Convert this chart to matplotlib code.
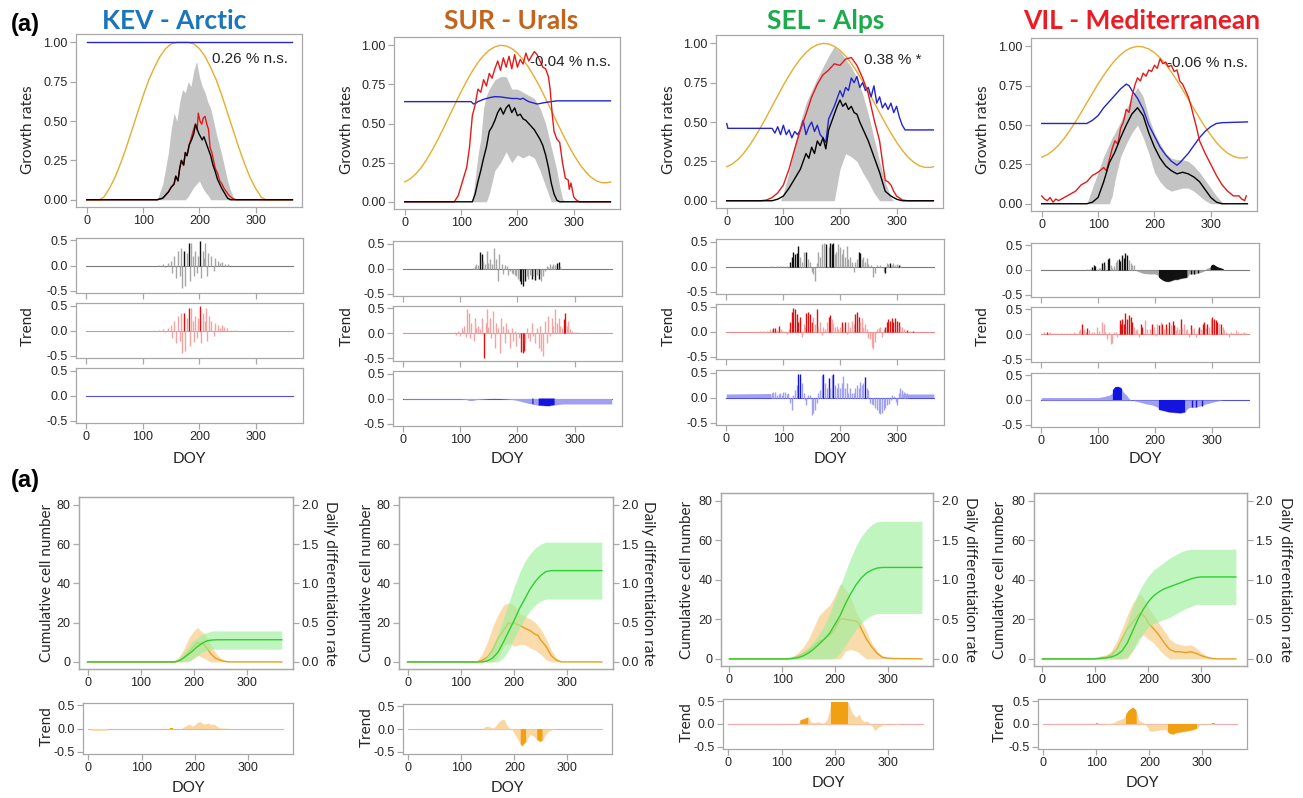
import numpy as np
import matplotlib
matplotlib.use("Agg")
import matplotlib.pyplot as plt
from matplotlib.ticker import FormatStrFormatter

plt.rcParams['font.family'] = ['Liberation Sans', 'DejaVu Sans']
plt.rcParams['axes.unicode_minus'] = False

# ---------------- data: growth rates (top row) ----------------
doy10 = [0, 10, 20, 30, 40, 50, 60, 70, 80, 90, 100, 110, 120, 130, 140, 150, 160, 170, 180,
         190, 200, 210, 220, 230, 240, 250, 260, 270, 280, 290, 300, 310, 320, 330, 340, 350, 360, 365]

kev_gold_doy = [0, 22, 30, 40, 50, 60, 70, 80, 90, 100, 110, 120, 130, 140, 150, 160, 170, 180, 190,
                200, 210, 220, 230, 240, 250, 260, 270, 280, 290, 300, 310, 318, 365]
kev_gold = [0, 0, 0.015, 0.07, 0.14, 0.23, 0.33, 0.44, 0.55, 0.66, 0.76, 0.84, 0.91, 0.96, 0.99, 1.0, 1.0,
            1.0, 0.99, 0.96, 0.91, 0.84, 0.76, 0.66, 0.55, 0.44, 0.33, 0.23, 0.14, 0.07, 0.015, 0, 0]
sur_gold = [0.127, 0.147, 0.179, 0.222, 0.276, 0.338, 0.406, 0.479, 0.555, 0.630, 0.703, 0.772, 0.835,
            0.890, 0.935, 0.969, 0.990, 1.000, 0.996, 0.979, 0.950, 0.909, 0.858, 0.798, 0.732, 0.659,
            0.585, 0.509, 0.435, 0.365, 0.300, 0.243, 0.196, 0.159, 0.134, 0.122, 0.122, 0.127]
sel_gold = [0.216, 0.234, 0.263, 0.302, 0.350, 0.406, 0.467, 0.532, 0.600, 0.667, 0.734, 0.795, 0.852,
            0.901, 0.942, 0.972, 0.991, 1.000, 0.996, 0.981, 0.955, 0.919, 0.873, 0.819, 0.759, 0.694,
            0.627, 0.559, 0.493, 0.430, 0.372, 0.321, 0.278, 0.245, 0.223, 0.212, 0.212, 0.216]
vil_gold = [0.296, 0.312, 0.338, 0.372, 0.416, 0.466, 0.521, 0.580, 0.641, 0.701, 0.761, 0.816, 0.867,
            0.911, 0.947, 0.975, 0.992, 1.000, 0.996, 0.983, 0.960, 0.927, 0.886, 0.837, 0.783, 0.725,
            0.665, 0.604, 0.544, 0.487, 0.436, 0.389, 0.351, 0.321, 0.301, 0.291, 0.291, 0.296]

kev_blue_doy = [0, 365]
kev_blue = [1.0, 1.0]
kev_red_doy = [0, 125, 130, 135, 140, 145, 150, 155, 158, 162, 165, 168, 172, 175, 178, 182, 186, 190, 193,
               196, 198, 201, 204, 207, 210, 213, 216, 219, 222, 225, 228, 232, 236, 240, 244, 248, 252,
               258, 265, 365]
kev_red = [0, 0, 0.005, 0.01, 0.03, 0.05, 0.08, 0.1, 0.15, 0.12, 0.2, 0.25, 0.22, 0.3, 0.28, 0.35, 0.4,
           0.45, 0.48, 0.44, 0.55, 0.5, 0.48, 0.52, 0.53, 0.48, 0.45, 0.33, 0.3, 0.25, 0.2, 0.17, 0.12,
           0.1, 0.07, 0.05, 0.03, 0.01, 0, 0]
kev_black_doy = [0, 125, 130, 135, 140, 145, 150, 155, 158, 162, 165, 168, 172, 175, 178, 182, 186, 190,
                 193, 196, 199, 202, 205, 208, 212, 216, 220, 224, 228, 232, 236, 240, 245, 250, 255, 365]
kev_black = [0, 0, 0.005, 0.01, 0.03, 0.05, 0.08, 0.1, 0.15, 0.12, 0.2, 0.25, 0.22, 0.3, 0.28, 0.35,
             0.38, 0.42, 0.48, 0.45, 0.42, 0.4, 0.38, 0.4, 0.36, 0.32, 0.28, 0.22, 0.18, 0.13, 0.1, 0.07,
             0.04, 0.01, 0, 0]
kev_band_doy = [0, 125, 130, 135, 140, 145, 150, 155, 160, 165, 170, 175, 180, 185, 190, 195, 200, 205,
                210, 215, 220, 225, 230, 235, 240, 245, 250, 255, 262, 365]
kev_band_hi = [0, 0, 0.05, 0.1, 0.2, 0.3, 0.45, 0.55, 0.5, 0.62, 0.7, 0.68, 0.75, 0.72, 0.82, 0.88, 0.78,
               0.72, 0.68, 0.62, 0.58, 0.5, 0.42, 0.35, 0.28, 0.2, 0.12, 0.06, 0, 0]
kev_band_lo = [0, 0, 0, 0, 0, 0, 0, 0, 0, 0, 0, 0, 0.02, 0.05, 0.08, 0.1, 0.12, 0.08, 0.05, 0.03, 0, 0,
               0, 0, 0, 0, 0, 0, 0, 0]

sur_blue_doy = [0, 118, 122, 126, 130, 140, 150, 160, 170, 180, 190, 200, 205, 210, 215, 220, 230, 235,
                240, 250, 260, 270, 365]
sur_blue = [0.64, 0.64, 0.625, 0.63, 0.64, 0.655, 0.665, 0.672, 0.67, 0.665, 0.66, 0.66, 0.655, 0.662,
            0.65, 0.64, 0.63, 0.625, 0.628, 0.635, 0.64, 0.645, 0.645]
sur_red_doy = [0, 88, 95, 100, 105, 110, 115, 120, 125, 130, 135, 140, 145, 150, 155, 160, 165, 170, 175,
               180, 185, 190, 195, 200, 205, 210, 215, 220, 225, 230, 235, 240, 245, 250, 255, 258, 262,
               265, 270, 275, 280, 285, 290, 292, 295, 300, 305, 310, 365]
sur_red = [0, 0, 0.04, 0.1, 0.16, 0.22, 0.35, 0.55, 0.62, 0.72, 0.7, 0.78, 0.74, 0.82, 0.79, 0.85, 0.9,
           0.84, 0.92, 0.86, 0.93, 0.85, 0.94, 0.86, 0.91, 0.88, 0.95, 0.9, 0.93, 0.96, 0.94, 0.9, 0.86,
           0.85, 0.8, 0.72, 0.55, 0.45, 0.4, 0.38, 0.25, 0.15, 0.14, 0.08, 0.12, 0.03, 0.01, 0, 0]
sur_black_doy = [0, 120, 125, 130, 135, 140, 145, 150, 155, 160, 165, 170, 175, 180, 185, 190, 195, 200,
                 205, 210, 215, 220, 225, 230, 235, 240, 245, 250, 255, 260, 265, 270, 275, 365]
sur_black = [0, 0, 0.05, 0.13, 0.2, 0.28, 0.35, 0.45, 0.48, 0.52, 0.57, 0.6, 0.56, 0.6, 0.62, 0.57, 0.6,
             0.55, 0.56, 0.53, 0.52, 0.5, 0.48, 0.46, 0.43, 0.4, 0.36, 0.3, 0.22, 0.12, 0.05, 0.01, 0, 0]
sur_band_doy = [0, 120, 125, 130, 135, 140, 145, 150, 160, 170, 180, 190, 200, 210, 220, 230, 240, 250,
                260, 270, 275, 280, 285, 365]
sur_band_hi = [0, 0, 0.15, 0.3, 0.4, 0.6, 0.68, 0.72, 0.78, 0.8, 0.8, 0.72, 0.72, 0.7, 0.68, 0.66, 0.6,
               0.5, 0.35, 0.2, 0.1, 0.02, 0, 0]
sur_band_lo = [0, 0, 0, 0, 0, 0, 0, 0.05, 0.2, 0.25, 0.32, 0.25, 0.3, 0.28, 0.3, 0.28, 0.2, 0.1, 0, 0,
               0, 0, 0, 0]

sel_blue_doy = [0, 2, 80, 85, 90, 95, 100, 105, 110, 115, 120, 125, 130, 135, 140, 145, 150, 155, 160,
                165, 170, 175, 180, 190, 200, 205, 210, 215, 220, 225, 230, 235, 240, 245, 250, 255, 260,
                265, 270, 275, 280, 285, 290, 295, 300, 305, 310, 315, 365]
sel_blue = [0.49, 0.46, 0.46, 0.43, 0.47, 0.42, 0.48, 0.42, 0.45, 0.4, 0.44, 0.42, 0.45, 0.51, 0.42,
            0.47, 0.5, 0.44, 0.48, 0.42, 0.4, 0.37, 0.52, 0.6, 0.7, 0.66, 0.72, 0.7, 0.78, 0.75, 0.79,
            0.72, 0.75, 0.7, 0.72, 0.66, 0.73, 0.62, 0.66, 0.59, 0.62, 0.58, 0.62, 0.56, 0.6, 0.53,
            0.48, 0.45, 0.45]
sel_red_doy = [0, 60, 70, 80, 90, 100, 110, 120, 130, 140, 150, 160, 170, 180, 190, 200, 210, 220, 230,
               240, 250, 260, 270, 275, 280, 285, 290, 295, 300, 310, 320, 365]
sel_red = [0, 0, 0.005, 0.02, 0.05, 0.1, 0.2, 0.33, 0.45, 0.55, 0.66, 0.74, 0.8, 0.83, 0.87, 0.86, 0.9,
           0.91, 0.86, 0.78, 0.68, 0.52, 0.38, 0.25, 0.13, 0.12, 0.1, 0.06, 0.03, 0.005, 0, 0]
sel_black_doy = [0, 80, 90, 100, 110, 120, 125, 130, 135, 140, 145, 150, 155, 160, 165, 170, 175, 180,
                 185, 190, 195, 200, 205, 210, 215, 220, 225, 230, 235, 240, 245, 250, 260, 270, 280,
                 290, 300, 310, 365]
sel_black = [0, 0, 0.01, 0.03, 0.08, 0.14, 0.17, 0.2, 0.25, 0.3, 0.27, 0.34, 0.3, 0.38, 0.35, 0.4, 0.33,
             0.45, 0.5, 0.55, 0.6, 0.64, 0.6, 0.62, 0.58, 0.6, 0.56, 0.55, 0.5, 0.46, 0.42, 0.38, 0.28,
             0.18, 0.06, 0.03, 0.01, 0, 0]
sel_band_doy = [0, 95, 100, 110, 120, 130, 140, 150, 160, 170, 180, 190, 195, 200, 210, 220, 230, 240,
                250, 260, 270, 280, 290, 295, 365]
sel_band_hi = [0, 0, 0.05, 0.18, 0.35, 0.5, 0.62, 0.7, 0.78, 0.85, 0.92, 0.98, 0.96, 0.95, 0.9, 0.85,
               0.78, 0.68, 0.55, 0.4, 0.25, 0.12, 0.02, 0, 0]
sel_band_lo = [0, 0, 0, 0, 0, 0, 0, 0, 0, 0, 0, 0, 0.1, 0.2, 0.3, 0.28, 0.25, 0.18, 0.12, 0.05, 0, 0, 0,
               0, 0]

vil_blue_doy = [0, 80, 90, 100, 110, 120, 130, 140, 150, 155, 160, 170, 180, 190, 200, 210, 220, 230,
                240, 245, 250, 260, 270, 280, 290, 300, 310, 320, 365]
vil_blue = [0.51, 0.51, 0.53, 0.56, 0.61, 0.65, 0.69, 0.73, 0.76, 0.75, 0.72, 0.67, 0.6, 0.5, 0.43,
            0.36, 0.31, 0.27, 0.245, 0.26, 0.28, 0.32, 0.37, 0.42, 0.46, 0.49, 0.51, 0.515, 0.52]
vil_red_doy = [0, 5, 10, 15, 20, 25, 30, 40, 50, 60, 70, 80, 90, 100, 110, 115, 120, 125, 130, 135, 140,
               145, 150, 155, 160, 165, 170, 175, 180, 185, 190, 195, 200, 205, 210, 215, 220, 225, 230,
               235, 240, 245, 250, 255, 260, 265, 270, 275, 280, 290, 300, 310, 320, 330, 340, 350, 355,
               360, 363]
vil_red = [0.05, 0.03, 0.02, 0.04, 0.01, 0.03, 0.02, 0.04, 0.06, 0.08, 0.12, 0.14, 0.18, 0.2, 0.23, 0.21,
           0.28, 0.35, 0.4, 0.38, 0.48, 0.52, 0.6, 0.58, 0.68, 0.75, 0.8, 0.78, 0.83, 0.81, 0.85, 0.84,
           0.88, 0.86, 0.92, 0.89, 0.9, 0.87, 0.88, 0.84, 0.85, 0.78, 0.76, 0.72, 0.68, 0.62, 0.55, 0.48,
           0.4, 0.32, 0.25, 0.18, 0.12, 0.08, 0.05, 0.05, 0.03, 0.02, 0.05]
vil_black_doy = [0, 80, 90, 100, 110, 120, 130, 140, 150, 160, 170, 180, 190, 200, 210, 220, 230, 240,
                 250, 260, 270, 280, 290, 300, 310, 320, 365]
vil_black = [0, 0, 0.01, 0.04, 0.14, 0.26, 0.33, 0.42, 0.5, 0.57, 0.61, 0.56, 0.45, 0.36, 0.29, 0.24,
             0.21, 0.19, 0.2, 0.19, 0.17, 0.14, 0.09, 0.04, 0.01, 0, 0]
vil_band_doy = [0, 80, 85, 90, 100, 110, 120, 125, 130, 140, 150, 160, 170, 180, 190, 200, 210, 220, 230,
                240, 250, 260, 270, 280, 290, 300, 310, 320, 330, 365]
vil_band_hi = [0, 0, 0.05, 0.1, 0.2, 0.3, 0.38, 0.42, 0.45, 0.52, 0.6, 0.68, 0.74, 0.68, 0.55, 0.45,
               0.38, 0.32, 0.29, 0.28, 0.28, 0.27, 0.24, 0.2, 0.15, 0.1, 0.05, 0.01, 0, 0]
vil_band_lo = [0, 0, 0, 0, 0, 0, 0, 0.05, 0.15, 0.3, 0.38, 0.45, 0.5, 0.42, 0.32, 0.2, 0.14, 0.1, 0.08,
               0.09, 0.1, 0.1, 0.08, 0.05, 0.02, 0, 0, 0, 0, 0]

slopes = ["0.26 % n.s.", "-0.04 % n.s.", "0.38 % *", "-0.06 % n.s."]
sites = ["KEV - Arctic", "SUR - Urals", "SEL - Alps", "VIL - Mediterranean"]

# ---------------- data: trends, (doy, value, significant) ----------------
kev_tr_black = [(128, 0.02, 0), (135, 0.03, 0), (140, -0.02, 0), (145, 0.05, 0), (150, 0.1, 0), (152, -0.15, 0),
                (155, 0.2, 0), (158, -0.25, 0), (162, 0.3, 0), (165, -0.2, 0), (168, 0.35, 0), (170, -0.45, 0),
                (172, 0.3, 1), (175, -0.4, 0), (178, 0.25, 0), (181, 0.45, 1), (183, -0.3, 0), (185, 0.45, 0),
                (188, 0.2, 0), (190, -0.2, 0), (193, 0.3, 0), (195, -0.15, 0), (198, 0.2, 0), (201, 0.48, 1),
                (203, -0.25, 0), (206, 0.3, 0), (208, 0.15, 0), (210, 0.45, 0), (213, -0.2, 0), (216, 0.25, 0),
                (220, 0.2, 0), (225, -0.1, 0), (228, 0.15, 0), (232, 0.1, 0), (236, 0.05, 0), (240, 0.07, 0),
                (245, 0.04, 0), (250, 0.03, 0)]
kev_tr_red = [(128, 0.02, 0), (135, 0.03, 0), (140, -0.02, 0), (145, 0.05, 0), (150, 0.12, 0), (152, -0.15, 0),
              (155, 0.2, 0), (158, -0.25, 0), (162, 0.3, 0), (165, -0.2, 0), (168, 0.35, 0), (170, -0.45, 0),
              (172, 0.35, 1), (175, -0.4, 0), (178, 0.25, 0), (181, 0.45, 1), (183, -0.3, 0), (185, 0.45, 0),
              (188, 0.2, 0), (190, -0.22, 0), (193, 0.3, 0), (196, -0.15, 0), (198, 0.25, 0), (201, 0.5, 1),
              (203, -0.25, 0), (206, 0.35, 0), (209, 0.2, 0), (211, 0.45, 0), (214, -0.2, 0), (217, 0.3, 0),
              (221, 0.2, 0), (225, -0.1, 0), (228, 0.15, 0), (232, 0.12, 0), (236, 0.05, 0), (240, 0.12, 0),
              (244, 0.08, 0), (248, 0.05, 0), (255, 0.02, 0), (262, 0.01, 0)]

sur_tr_black = [(122, 0.02, 0), (125, 0.05, 0), (128, 0.1, 0), (131, 0.08, 0), (134, 0.33, 1), (137, 0.3, 1),
                (140, 0.15, 0), (143, 0.1, 0), (146, 0.35, 0), (149, 0.12, 0), (151, 0.2, 0), (155, 0.1, 0),
                (159, 0.42, 0), (163, 0.2, 0), (166, -0.24, 0), (168, 0.3, 0), (172, 0.1, 0), (175, -0.1, 0),
                (178, 0.08, 0), (181, 0.05, 0), (184, -0.12, 0), (187, -0.05, 0), (190, -0.08, 0),
                (193, -0.1, 0), (196, -0.12, 0), (198, -0.15, 0), (201, -0.2, 0), (204, -0.25, 1),
                (207, -0.3, 1), (210, -0.35, 1), (213, -0.25, 1), (216, -0.15, 0), (219, -0.2, 0),
                (222, -0.12, 0), (225, -0.2, 1), (228, -0.15, 0), (231, -0.22, 1), (234, -0.12, 0),
                (237, -0.2, 1), (240, -0.1, 0), (242, -0.25, 0), (245, -0.15, 0), (248, -0.05, 0),
                (251, 0.05, 0), (254, 0.03, 0), (257, 0.1, 0), (260, 0.06, 0), (263, 0.1, 0), (266, 0.08, 0),
                (269, 0.12, 1), (272, 0.13, 1), (275, 0.05, 0)]
sur_tr_red = [(90, 0.02, 0), (93, -0.03, 0), (96, 0.05, 0), (99, -0.05, 0), (102, 0.1, 0), (105, 0.04, 0),
              (107, 0.15, 0), (109, -0.08, 0), (112, 0.48, 0), (115, 0.4, 0), (117, -0.1, 0), (119, 0.2, 0),
              (123, -0.15, 0), (125, 0.3, 0), (128, 0.1, 0), (131, 0.15, 0), (134, 0.08, 0), (137, 0.3, 0),
              (141, -0.5, 1), (144, 0.2, 0), (146, 0.48, 0), (149, 0.12, 0), (151, 0.3, 0), (154, -0.1, 0),
              (157, 0.45, 0), (160, -0.3, 0), (163, 0.2, 0), (166, 0.1, 0), (169, -0.4, 0), (171, 0.3, 0),
              (175, 0.15, 0), (178, -0.2, 0), (180, 0.2, 0), (184, 0.08, 0), (187, -0.3, 0), (190, 0.1, 0),
              (193, -0.15, 0), (196, 0.05, 0), (198, -0.25, 0), (202, -0.1, 0), (207, -0.38, 1),
              (209, -0.4, 1), (211, -0.35, 1), (213, -0.2, 0), (216, 0.1, 0), (219, -0.1, 0), (222, -0.15, 0),
              (225, 0.2, 0), (228, -0.05, 0), (231, -0.2, 0), (234, 0.1, 0), (237, -0.3, 0), (240, 0.15, 0),
              (242, -0.35, 0), (245, -0.45, 0), (248, 0.25, 0), (251, -0.2, 0), (254, 0.35, 0),
              (257, -0.05, 0), (260, 0.3, 0), (263, 0.15, 0), (266, 0.48, 0), (269, 0.2, 0), (272, 0.3, 0),
              (275, 0.15, 0), (278, 0.1, 0), (281, 0.28, 1), (284, 0.4, 1), (287, 0.15, 0), (289, 0.25, 0),
              (292, 0.08, 0), (295, 0.05, 0), (300, 0.02, 0), (304, 0.02, 0)]
sur_tr_blue_doy = [0, 100, 110, 115, 120, 125, 130, 140, 150, 160, 170, 180, 190, 200, 210, 220, 226, 228,
                   230, 237, 240, 250, 256, 259, 260, 265, 270, 280, 365]
sur_tr_blue = [-0.01, -0.01, -0.02, -0.04, -0.04, -0.03, -0.02, -0.01, 0.0, 0.005, 0.0, -0.01, -0.02,
               -0.04, -0.07, -0.1, -0.11, -0.12, -0.12, -0.14, -0.14, -0.15, -0.15, -0.14, -0.14, -0.13,
               -0.12, -0.11, -0.11]
sur_tr_blue_sig = [0, 0, 0, 0, 0, 0, 0, 0, 0, 0, 0, 0, 0, 0, 0, 0, 1, 1, 0, 1, 1, 1, 1, 1, 1, 1, 0, 0, 0]

sel_tr_black = [(80, 0.01, 0), (90, 0.01, 0), (95, 0.02, 0), (100, 0.01, 0), (106, 0.02, 0), (109, -0.02, 0),
                (113, 0.1, 1), (115, 0.2, 1), (118, 0.3, 1), (121, 0.25, 1), (124, 0.28, 1), (127, 0.42, 1),
                (130, 0.2, 0), (133, 0.1, 0), (136, 0.3, 0), (140, 0.3, 1), (144, 0.15, 0), (147, 0.1, 0),
                (150, -0.1, 0), (153, -0.15, 0), (156, -0.28, 0), (159, 0.08, 0), (162, 0.3, 0), (165, 0.2, 0),
                (168, 0.46, 0), (172, 0.48, 0), (176, 0.45, 1), (180, 0.4, 0), (183, 0.48, 1), (186, 0.46, 1),
                (188, 0.48, 1), (191, 0.25, 0), (193, 0.3, 0), (197, 0.46, 0), (200, 0.4, 0), (203, 0.25, 0),
                (206, 0.35, 0), (209, 0.2, 0), (212, 0.42, 0), (215, 0.15, 0), (218, 0.2, 0), (221, 0.1, 0),
                (224, -0.1, 0), (227, 0.1, 0), (230, 0.15, 0), (233, 0.3, 1), (235, 0.28, 1), (238, 0.15, 0),
                (241, 0.2, 0), (244, 0.1, 0), (247, 0.18, 0), (250, 0.05, 0), (255, 0.03, 0), (259, -0.2, 0),
                (262, -0.12, 0), (266, 0.03, 0), (271, 0.03, 0), (277, -0.1, 0), (280, -0.12, 1),
                (282, 0.08, 0), (285, 0.05, 0), (288, 0.07, 1), (291, 0.04, 0), (294, 0.08, 0), (297, 0.04, 0),
                (300, 0.05, 0), (303, 0.03, 1), (306, 0.03, 0)]
sel_tr_red = [(59, 0.01, 0), (65, 0.01, 0), (71, 0.02, 0), (77, 0.05, 0), (80, 0.03, 0), (83, 0.08, 1),
              (86, 0.07, 1), (89, 0.03, 0), (92, 0.12, 1), (97, 0.05, 0), (100, 0.02, 0), (106, -0.05, 0),
              (110, 0.05, 0), (113, 0.2, 1), (115, 0.4, 1), (118, 0.48, 1), (121, 0.45, 1), (124, 0.35, 1),
              (127, 0.2, 1), (130, 0.3, 1), (134, -0.1, 0), (136, 0.15, 0), (138, 0.1, 0), (141, 0.37, 1),
              (144, 0.4, 1), (147, 0.36, 1), (150, 0.2, 1), (153, 0.3, 0), (156, 0.15, 0), (159, 0.45, 1),
              (162, 0.1, 0), (165, 0.2, 0), (168, -0.06, 0), (171, 0.1, 0), (174, 0.05, 0), (177, 0.2, 0),
              (180, 0.3, 1), (183, 0.33, 1), (186, 0.25, 0), (188, 0.18, 0), (191, 0.1, 0), (194, 0.12, 0),
              (197, 0.05, 0), (200, 0.1, 0), (203, 0.2, 1), (206, 0.1, 0), (209, 0.2, 1), (212, -0.05, 0),
              (215, 0.2, 0), (218, 0.1, 0), (221, 0.22, 0), (224, 0.15, 0), (227, 0.36, 1), (230, 0.4, 1),
              (233, 0.3, 1), (236, 0.2, 0), (238, 0.28, 0), (241, 0.1, 0), (244, 0.15, 0), (247, 0.05, 0),
              (250, -0.12, 0), (253, -0.15, 0), (256, -0.3, 0), (259, -0.35, 0), (262, -0.2, 0),
              (265, 0.05, 0), (268, 0.08, 0), (271, 0.1, 0), (274, -0.1, 0), (277, 0.05, 0), (280, 0.1, 1),
              (282, 0.2, 1), (285, 0.25, 1), (288, 0.22, 1), (291, 0.28, 1), (294, 0.2, 1), (297, 0.27, 1),
              (300, 0.22, 1), (303, 0.2, 1), (306, 0.12, 0), (309, 0.1, 0), (313, 0.05, 0), (318, 0.03, 1),
              (323, 0.02, 0), (329, 0.02, 1)]
sel_tr_blue = [(80, 0.1, 0), (83, 0.12, 0), (86, 0.12, 0), (89, 0.06, 0), (92, 0.08, 0), (95, 0.1, 0),
               (98, 0.05, 0), (100, 0.12, 0), (103, 0.12, 0), (106, 0.08, 0), (109, 0.1, 0), (112, -0.1, 0),
               (115, -0.25, 0), (118, 0.05, 0), (121, 0.15, 0), (124, 0.25, 0), (127, 0.48, 1), (130, 0.48, 1),
               (133, 0.3, 0), (136, 0.1, 0), (139, -0.05, 0), (141, -0.15, 0), (144, 0.05, 0), (147, 0.05, 0),
               (150, -0.35, 0), (153, -0.3, 0), (156, -0.25, 0), (159, -0.1, 0), (162, 0.1, 0), (165, 0.15, 0),
               (168, 0.45, 0), (171, 0.47, 1), (174, 0.3, 0), (177, 0.2, 0), (180, 0.4, 1), (183, 0.2, 0),
               (186, 0.46, 0), (188, 0.48, 1), (191, 0.25, 0), (194, 0.2, 0), (197, 0.3, 0), (200, 0.2, 0),
               (203, 0.3, 0), (206, 0.44, 0), (209, 0.2, 0), (212, 0.3, 0), (215, 0.1, 0), (218, 0.2, 0),
               (221, 0.1, 0), (224, 0.1, 0), (227, 0.2, 0), (230, 0.25, 0), (233, 0.2, 0), (235, 0.32, 0),
               (238, 0.25, 0), (241, 0.3, 0), (244, 0.42, 1), (247, 0.2, 0), (250, 0.15, 0), (253, -0.1, 0),
               (256, -0.12, 0), (259, -0.15, 0), (262, -0.2, 0), (265, -0.25, 0), (268, -0.3, 0),
               (271, -0.32, 0), (274, -0.3, 0), (277, -0.25, 0), (280, -0.2, 0), (283, -0.15, 0),
               (286, -0.12, 0), (289, -0.05, 0), (292, 0.05, 0), (295, 0.04, 0), (298, -0.08, 0),
               (300, -0.15, 0), (303, 0.1, 0), (306, 0.2, 0), (309, 0.15, 0), (312, 0.12, 0), (315, 0.1, 0),
               (318, 0.1, 0)]
sel_tr_blue_doy = [0, 78, 79, 307, 308, 365]
sel_tr_blue_area = [0.07, 0.08, 0, 0, 0.07, 0.07]

vil_tr_black = [(81, 0.02, 0), (86, 0.03, 0), (89, 0.06, 1), (92, 0.1, 1), (95, 0.08, 1), (98, 0.03, 0),
                (101, 0.05, 0), (104, 0.04, 0), (107, 0.15, 1), (110, 0.17, 1), (113, 0.1, 0), (117, 0.22, 1),
                (119, 0.25, 1), (122, 0.1, 0), (125, 0.05, 0), (128, 0.08, 0), (131, 0.17, 0), (134, 0.2, 0),
                (136, 0.22, 1), (139, 0.18, 1), (142, 0.3, 1), (145, 0.25, 1), (148, 0.35, 1), (151, 0.3, 1),
                (154, 0.2, 0), (157, 0.15, 0), (160, 0.1, 0), (163, 0.1, 0), (263, -0.08, 1), (269, -0.08, 1),
                (275, -0.07, 1)]
vil_tr_black_doy = [0, 165, 170, 175, 180, 190, 200, 204, 207, 210, 215, 220, 225, 230, 235, 240, 245, 250,
                    255, 257, 260, 265, 270, 275, 280, 285, 289, 290, 295, 298, 300, 303, 306, 310, 315,
                    320, 322, 365]
vil_tr_black_area = [0, 0, -0.03, -0.05, -0.07, -0.08, -0.08, -0.1, -0.15, -0.18, -0.22, -0.24, -0.24,
                     -0.22, -0.2, -0.2, -0.18, -0.17, -0.16, -0.15, -0.08, -0.08, -0.08, -0.06, -0.05,
                     -0.03, 0.0, 0.03, 0.05, 0.06, 0.1, 0.11, 0.09, 0.06, 0.04, 0.02, 0.0, 0]
vil_tr_black_sig = [0, 0, 0, 0, 0, 0, 0, 0, 1, 1, 1, 1, 1, 1, 1, 1, 1, 1, 1, 1, 0, 0, 0, 0, 0, 0, 0, 0, 0,
                    1, 1, 1, 1, 1, 1, 1, 1, 0]
vil_tr_red = [(4, 0.05, 0), (10, 0.05, 1), (13, 0.02, 0), (16, 0.04, 0), (22, 0.03, 0), (28, 0.02, 0),
              (34, 0.02, 0), (40, 0.03, 0), (45, 0.03, 0), (51, 0.02, 0), (57, 0.04, 0), (62, 0.03, 0),
              (66, 0.06, 0), (69, 0.1, 0), (72, 0.2, 1), (75, 0.1, 0), (78, 0.05, 0), (81, 0.13, 1),
              (84, 0.08, 0), (89, 0.05, 0), (93, 0.04, 0), (98, 0.15, 0), (102, 0.06, 0), (107, 0.25, 0),
              (110, 0.2, 0), (113, 0.05, 0), (116, -0.1, 0), (119, 0.05, 0), (122, -0.2, 0), (125, -0.18, 0),
              (128, 0.05, 0), (131, 0.04, 0), (134, -0.05, 0), (138, 0.28, 1), (140, 0.2, 1), (142, 0.3, 1),
              (145, 0.2, 1), (148, 0.42, 1), (151, 0.3, 1), (154, 0.38, 1), (157, 0.35, 1), (160, 0.25, 1),
              (163, 0.15, 0), (166, 0.08, 0), (169, 0.1, 0), (172, -0.05, 0), (175, 0.2, 1), (178, 0.15, 1),
              (182, 0.28, 0), (186, 0.1, 0), (191, 0.1, 0), (195, 0.2, 1), (198, 0.15, 0), (201, -0.03, 0),
              (203, 0.2, 0), (207, 0.18, 1), (210, 0.25, 0), (213, 0.2, 1), (216, 0.1, 0), (219, 0.2, 1),
              (222, 0.12, 0), (225, 0.25, 1), (228, 0.18, 0), (231, 0.27, 1), (234, 0.18, 1), (237, 0.08, 0),
              (239, 0.15, 0), (242, 0.1, 0), (245, 0.3, 1), (248, 0.12, 0), (251, 0.2, 0), (254, 0.08, 0),
              (257, 0.1, 0), (260, -0.05, 0), (263, 0.18, 1), (266, 0.1, 0), (269, 0.12, 0), (272, -0.05, 0),
              (275, 0.1, 0), (278, 0.15, 1), (281, 0.1, 0), (284, 0.2, 1), (286, 0.25, 1), (289, 0.12, 0),
              (292, 0.2, 1), (295, 0.15, 0), (298, 0.3, 0), (301, 0.35, 1), (304, 0.3, 1), (307, 0.28, 1),
              (310, 0.25, 1), (313, 0.2, 0), (316, 0.2, 1), (319, 0.15, 0), (322, 0.08, 0), (325, 0.05, 0),
              (328, 0.03, 0), (331, -0.05, 0), (334, 0.05, 0), (338, 0.03, 0), (342, 0.08, 0), (346, 0.04, 0),
              (351, 0.03, 0), (354, 0.02, 0), (357, 0.05, 0), (361, 0.02, 0)]
vil_tr_blue = [(265, -0.15, 1), (272, -0.15, 1), (283, -0.12, 1)]
vil_tr_blue_doy = [0, 90, 100, 110, 120, 125, 126, 130, 135, 140, 142, 145, 150, 155, 160, 165, 175, 185,
                   195, 205, 207, 215, 225, 235, 245, 253, 255, 260, 270, 280, 290, 300, 310, 320, 365]
vil_tr_blue_area = [0.05, 0.05, 0.05, 0.07, 0.1, 0.14, 0.2, 0.26, 0.27, 0.25, 0.22, 0.15, 0.1, 0.02, 0.0,
                    -0.02, -0.05, -0.08, -0.1, -0.15, -0.2, -0.22, -0.25, -0.26, -0.27, -0.25, -0.2, -0.15,
                    -0.15, -0.12, -0.08, -0.05, -0.02, 0.0, 0.0]
vil_tr_blue_sig = [0, 0, 0, 0, 0, 0, 1, 1, 1, 1, 1, 0, 0, 0, 0, 0, 0, 0, 0, 0, 1, 1, 1, 1, 1, 1, 0, 0, 0,
                   0, 0, 0, 0, 0, 0]

# ---------------- data: cell differentiation (bottom row) ----------------
kev_cum_doy = [0, 165, 175, 185, 195, 205, 215, 225, 235, 245, 365]
kev_cum = [0, 0, 1, 3, 5, 7.5, 9.5, 10.8, 11.2, 11.3, 11.3]
kev_cum_hi = [0, 0, 3, 6, 10, 12, 14, 15, 15.8, 15.8, 15.8]
kev_cum_lo = [0, 0, 0, 0.5, 1, 3, 5, 6, 6.5, 6.5, 6.5]
kev_rate_doy = [0, 160, 170, 180, 190, 200, 207, 212, 218, 225, 232, 240, 250, 260, 270, 365]
kev_rate = [0, 0, 0.01, 0.05, 0.12, 0.2, 0.25, 0.22, 0.23, 0.17, 0.1, 0.05, 0.02, 0.005, 0, 0]
kev_rate_hi = [0, 0.005, 0.05, 0.15, 0.3, 0.4, 0.44, 0.4, 0.37, 0.3, 0.22, 0.12, 0.05, 0.01, 0, 0]
kev_rate_lo = [0, 0, 0, 0, 0, 0.05, 0.08, 0.07, 0.05, 0.02, 0, 0, 0, 0, 0, 0]

sur_cum_doy = [0, 140, 150, 160, 170, 180, 190, 200, 210, 220, 230, 240, 250, 260, 270, 365]
sur_cum = [0, 0, 0.5, 2, 5, 10, 15.5, 21, 27, 32, 37, 41, 44, 46, 46.5, 46.5]
sur_cum_hi = [0, 0.5, 3, 8, 14, 22, 30, 38, 45, 51, 55, 58, 60, 61, 61, 61]
sur_cum_lo = [0, 0, 0, 0, 0, 2, 6, 12, 17, 22, 26, 29, 31, 32, 32, 32]
sur_rate_doy = [0, 130, 140, 150, 160, 170, 180, 185, 190, 195, 200, 205, 210, 215, 220, 230, 240, 245,
                250, 260, 270, 280, 290, 365]
sur_rate = [0, 0, 0.02, 0.06, 0.15, 0.3, 0.4, 0.45, 0.5, 0.48, 0.5, 0.48, 0.47, 0.45, 0.43, 0.4, 0.35,
            0.34, 0.28, 0.2, 0.08, 0.02, 0, 0]
sur_rate_hi = [0, 0.005, 0.1, 0.25, 0.45, 0.6, 0.72, 0.74, 0.75, 0.74, 0.72, 0.68, 0.62, 0.6, 0.58, 0.55,
               0.5, 0.46, 0.42, 0.3, 0.15, 0.05, 0, 0]
sur_rate_lo = [0, 0, 0, 0, 0, 0.05, 0.2, 0.22, 0.24, 0.22, 0.2, 0.21, 0.22, 0.22, 0.22, 0.18, 0.15, 0.12,
               0.1, 0.03, 0, 0, 0, 0]

sel_cum_doy = [0, 110, 120, 130, 140, 150, 160, 170, 180, 190, 200, 210, 220, 230, 240, 250, 260, 270,
               280, 290, 365]
sel_cum = [0, 0, 0.2, 0.6, 1.5, 3, 5, 7.5, 10, 13, 17.5, 22, 28, 33, 37.5, 41, 43.5, 45, 46, 46.3, 46.3]
sel_cum_hi = [0, 0.5, 1, 2, 4, 6, 9, 12.5, 17, 23, 30, 37, 44, 51, 57, 62, 65.5, 68, 69.5, 69.7, 69.7]
sel_cum_lo = [0, 0, 0, 0, 0, 0, 0, 0, 0, 0, 0.5, 3, 7, 11, 15, 18, 20.5, 22, 23, 23, 23]
sel_rate_doy = [0, 110, 120, 130, 140, 150, 160, 170, 180, 190, 200, 205, 210, 215, 220, 230, 240, 245,
                250, 260, 270, 280, 290, 300, 310, 365]
sel_rate = [0, 0, 0.01, 0.03, 0.06, 0.1, 0.16, 0.22, 0.25, 0.3, 0.38, 0.45, 0.5, 0.51, 0.5, 0.49, 0.48,
            0.45, 0.38, 0.25, 0.15, 0.07, 0.02, 0.01, 0.005, 0]
sel_rate_hi = [0, 0.005, 0.03, 0.08, 0.15, 0.25, 0.4, 0.55, 0.62, 0.68, 0.8, 0.88, 0.95, 0.93, 0.88, 0.78,
               0.6, 0.54, 0.48, 0.35, 0.2, 0.1, 0.04, 0.01, 0, 0]
sel_rate_lo = [0, 0, 0, 0, 0, 0, 0, 0, 0, 0, 0, 0, 0, 0.05, 0.1, 0.12, 0.1, 0.08, 0.05, 0, 0, 0, 0, 0, 0, 0]

vil_cum_doy = [0, 100, 110, 120, 130, 140, 150, 160, 170, 180, 190, 200, 210, 220, 230, 240, 250, 260,
               270, 280, 290, 300, 365]
vil_cum = [0, 0, 0.2, 0.5, 1, 2, 4, 8, 14, 20, 25, 29, 32, 34, 35.5, 36.5, 37.5, 38.5, 39.5, 40.5, 41.2,
           41.5, 41.5]
vil_cum_hi = [0, 0.5, 1, 1.5, 3, 6, 11, 18, 26, 33, 38, 42, 45, 47, 49, 51, 52.5, 54, 55, 55.5, 55.5,
              55.5, 55.5]
vil_cum_lo = [0, 0, 0, 0, 0, 0, 0, 1, 4, 8, 13, 16, 18, 19, 20, 21, 22.5, 24, 25.5, 26.5, 27.5, 27.5, 27.5]
vil_rate_doy = [0, 90, 100, 110, 120, 130, 140, 150, 160, 170, 175, 180, 185, 190, 195, 200, 210, 220,
                230, 240, 250, 260, 270, 280, 290, 300, 310, 320, 330, 365]
vil_rate = [0, 0, 0.005, 0.01, 0.02, 0.05, 0.12, 0.25, 0.38, 0.46, 0.5, 0.55, 0.58, 0.55, 0.52, 0.45,
            0.38, 0.3, 0.2, 0.12, 0.09, 0.09, 0.08, 0.09, 0.07, 0.04, 0.02, 0.005, 0, 0]
vil_rate_hi = [0, 0.005, 0.01, 0.04, 0.05, 0.1, 0.22, 0.38, 0.55, 0.7, 0.75, 0.8, 0.82, 0.78, 0.72, 0.65,
               0.55, 0.45, 0.35, 0.25, 0.2, 0.18, 0.17, 0.18, 0.14, 0.08, 0.04, 0.01, 0, 0]
vil_rate_lo = [0, 0, 0, 0, 0, 0, 0, 0, 0, 0.1, 0.18, 0.25, 0.28, 0.3, 0.28, 0.25, 0.2, 0.12, 0.05, 0, 0,
               0, 0, 0, 0, 0, 0, 0, 0, 0]

kev_tr_cell_doy = [5, 35, 36, 150, 153, 158, 160, 175, 180, 185, 190, 195, 200, 205, 210, 215, 220, 225,
                   230, 235, 240, 245, 250, 260, 265]
kev_tr_cell = [-0.04, -0.04, 0, 0, 0.02, 0.02, 0, 0, 0.04, 0.07, 0.1, 0.05, 0.08, 0.14, 0.15, 0.1, 0.1,
               0.12, 0.08, 0.1, 0.06, 0.02, 0.01, 0.005, 0]
kev_tr_cell_sig = [0, 0, 0, 0, 1, 1, 0, 0, 0, 0, 0, 0, 0, 0, 0, 0, 0, 0, 0, 0, 0, 0, 0, 0, 0]
sur_tr_cell_doy = [138, 140, 145, 150, 155, 160, 165, 170, 175, 180, 185, 190, 195, 200, 205, 210, 212,
                   215, 218, 222, 225, 230, 235, 240, 243, 245, 248, 250, 253, 255, 260, 265, 270, 275]
sur_tr_cell = [0, 0.01, 0.05, 0.06, 0.04, 0.02, 0.07, 0.15, 0.2, 0.22, 0.1, 0.02, 0, -0.1, -0.2, -0.3,
               -0.34, -0.38, -0.33, -0.28, -0.2, -0.12, -0.15, -0.2, -0.24, -0.25, -0.28, -0.27, -0.25,
               -0.2, -0.1, -0.05, -0.02, 0]
sur_tr_cell_sig = [0, 0, 0, 0, 0, 0, 0, 0, 0, 0, 0, 0, 0, 0, 0, 0, 1, 1, 1, 1, 0, 0, 0, 0, 1, 1, 1, 1, 1,
                   0, 0, 0, 0, 0]
sel_tr_cell_doy = [130, 135, 140, 145, 150, 152, 155, 160, 170, 175, 180, 185, 190, 192, 200, 210, 220, 224,
                   226, 230, 235, 240, 245, 250, 255, 260, 265, 270, 275, 280, 285, 290, 300, 315, 320, 322]
sel_tr_cell = [0, 0.08, 0.1, 0.12, 0.15, 0.12, 0.05, 0.03, 0.05, 0.02, 0.03, 0.1, 0.3, 0.49, 0.49, 0.49,
               0.49, 0.49, 0.45, 0.3, 0.2, 0.15, 0.22, 0.1, 0.05, 0.07, 0.02, -0.05, -0.15, -0.08, -0.05,
               -0.02, 0, 0.01, 0.01, 0]
sel_tr_cell_sig = [0, 1, 1, 1, 1, 0, 0, 0, 0, 0, 0, 0, 0, 1, 1, 1, 1, 1, 0, 0, 0, 0, 0, 0, 0, 0, 0, 0, 0,
                   0, 0, 0, 0, 1, 1, 0]
vil_tr_cell_doy = [98, 100, 103, 105, 130, 135, 140, 145, 150, 155, 156, 160, 165, 170, 175, 176, 180, 185,
                   190, 195, 200, 205, 210, 220, 230, 235, 240, 245, 250, 260, 270, 280, 290, 295, 300, 310,
                   318, 320, 323, 325]
vil_tr_cell = [0, 0.02, 0.02, 0, 0.02, 0.05, 0.08, 0.1, 0.12, 0.18, 0.2, 0.28, 0.33, 0.36, 0.3, 0.25,
               0.08, 0.05, 0.02, -0.05, -0.15, -0.16, -0.15, -0.13, -0.12, -0.18, -0.22, -0.23, -0.2,
               -0.18, -0.16, -0.14, -0.1, -0.02, 0, 0.01, 0.02, 0.02, 0.02, 0]
vil_tr_cell_sig = [0, 1, 1, 0, 0, 0, 0, 0, 0, 0, 1, 1, 1, 1, 1, 1, 0, 0, 0, 0, 0, 0, 0, 0, 0, 1, 1, 1, 1,
                   1, 1, 1, 1, 0, 0, 0, 1, 1, 1, 0]

# ---------------- styles ----------------
W, H = 1303, 798
FRAME = '#a8a8a8'
TXT = '#262626'
GOLD, GRAY, BLUE, RED = '#e6ad2e', '#c4c4c4', '#2424cc', '#e41a1a'
GREEN, GREEN_F, ORANGE, ORANGE_F = '#2fcf2f', '#9ef09e', '#e3a11e', '#f9d7a3'
TITLE_COLORS = ['#1b75bc', '#c4641c', '#1aab4b', '#ec1c24']
SERIF = ['Lato', 'DejaVu Sans']

top_main = [(76, 34, 302, 207), (394, 37, 620, 209), (716, 35, 943, 208), (1031, 38, 1257, 211)]
top_trend = [[(76, 238, 303, 293), (76, 303, 303, 358), (76, 368, 303, 423)],
             [(393, 241, 622, 296), (393, 306, 622, 361), (393, 371, 622, 426)],
             [(716, 239, 944, 294), (716, 304, 944, 359), (716, 370, 944, 425)],
             [(1031, 243, 1259, 297), (1031, 307, 1259, 362), (1031, 373, 1259, 427)]]
bot_main = [(79, 497, 293, 669), (399, 497, 613, 669), (721, 493, 933, 666), (1034, 493, 1247, 666)]
bot_trend = [(83, 703, 293, 754), (403, 704, 612, 754), (723, 699, 933, 749), (1038, 699, 1247, 749)]
gr_label_x = [28, 347, 669, 983]
cum_label_x = [47, 367, 687, 1000]
rate_label_x = [330, 648, 970, 1285]
title_x = [174, 511, 826, 1142]

fig = plt.figure(figsize=(W / 100, H / 100), dpi=100)


def box(b):
    x0, y0, x1, y1 = b
    return fig.add_axes([x0 / W, 1 - y1 / H, (x1 - x0) / W, (y1 - y0) / H])


def ftext(x, y, s, **kw):
    fig.text(x / W, 1 - y / H, s, ha='center', va='center', **kw)


def frame(ax, xlim, ylim, yticks, fmt, xlabels=True):
    ax.set_xlim(*xlim)
    ax.set_ylim(*ylim)
    ax.set_xticks([0, 100, 200, 300])
    ax.set_yticks(yticks)
    ax.yaxis.set_major_formatter(FormatStrFormatter(fmt))
    for s in ax.spines.values():
        s.set_color(FRAME)
        s.set_linewidth(0.9)
    ax.tick_params(colors=FRAME, labelcolor=TXT, length=4, width=0.9, labelsize=9, pad=2)
    if not xlabels:
        ax.set_xticklabels([])


def trend(ax, dark, light, base, spikes=None, area=None):
    ax.plot([0, 365], [0, 0], color=base, lw=0.8, zorder=1)
    if area is not None:
        d, v, sig = area
        ax.fill_between(d, 0, v, color=light, lw=0, zorder=2)
        if sig is not None:
            ax.fill_between(d, 0, v, where=np.array(sig, bool), color=dark, lw=0, zorder=3)
    if spikes:
        d, v, s = zip(*spikes)
        ax.vlines(d, 0, v, colors=[dark if k else light for k in s], lw=1.0, zorder=4)


golds = [(kev_gold_doy, kev_gold), (doy10, sur_gold), (doy10, sel_gold), (doy10, vil_gold)]
bands = [(kev_band_doy, kev_band_lo, kev_band_hi), (sur_band_doy, sur_band_lo, sur_band_hi),
         (sel_band_doy, sel_band_lo, sel_band_hi), (vil_band_doy, vil_band_lo, vil_band_hi)]
blues = [(kev_blue_doy, kev_blue), (sur_blue_doy, sur_blue), (sel_blue_doy, sel_blue), (vil_blue_doy, vil_blue)]
reds = [(kev_red_doy, kev_red), (sur_red_doy, sur_red), (sel_red_doy, sel_red), (vil_red_doy, vil_red)]
blacks = [(kev_black_doy, kev_black), (sur_black_doy, sur_black), (sel_black_doy, sel_black),
          (vil_black_doy, vil_black)]

tr_black = [dict(spikes=kev_tr_black), dict(spikes=sur_tr_black), dict(spikes=sel_tr_black),
            dict(spikes=vil_tr_black, area=(vil_tr_black_doy, vil_tr_black_area, vil_tr_black_sig))]
tr_red = [dict(spikes=kev_tr_red), dict(spikes=sur_tr_red), dict(spikes=sel_tr_red), dict(spikes=vil_tr_red)]
tr_blue = [dict(), dict(area=(sur_tr_blue_doy, sur_tr_blue, sur_tr_blue_sig)),
           dict(spikes=sel_tr_blue, area=(sel_tr_blue_doy, sel_tr_blue_area, None)),
           dict(spikes=vil_tr_blue, area=(vil_tr_blue_doy, vil_tr_blue_area, vil_tr_blue_sig))]

cums = [(kev_cum_doy, kev_cum, kev_cum_lo, kev_cum_hi), (sur_cum_doy, sur_cum, sur_cum_lo, sur_cum_hi),
        (sel_cum_doy, sel_cum, sel_cum_lo, sel_cum_hi), (vil_cum_doy, vil_cum, vil_cum_lo, vil_cum_hi)]
rates = [(kev_rate_doy, kev_rate, kev_rate_lo, kev_rate_hi), (sur_rate_doy, sur_rate, sur_rate_lo, sur_rate_hi),
         (sel_rate_doy, sel_rate, sel_rate_lo, sel_rate_hi), (vil_rate_doy, vil_rate, vil_rate_lo, vil_rate_hi)]
tr_cell = [(kev_tr_cell_doy, kev_tr_cell, kev_tr_cell_sig), (sur_tr_cell_doy, sur_tr_cell, sur_tr_cell_sig),
           (sel_tr_cell_doy, sel_tr_cell, sel_tr_cell_sig), (vil_tr_cell_doy, vil_tr_cell, vil_tr_cell_sig)]

for i in range(4):
    # growth rates
    ax = box(top_main[i])
    ax.plot(*golds[i], color=GOLD, lw=1.0)
    d, lo, hi = bands[i]
    ax.fill_between(d, lo, hi, color=GRAY, lw=0)
    ax.plot(*blues[i], color=BLUE, lw=1.0)
    ax.plot(*reds[i], color=RED, lw=1.0)
    ax.plot(*blacks[i], color='black', lw=1.0)
    frame(ax, (-19, 382), (-0.046, 1.053), [0, 0.25, 0.5, 0.75, 1.0], '%.2f')
    ax.text(0.60 if i != 2 else 0.652, 0.855, slopes[i], transform=ax.transAxes, fontsize=11,
            color=TXT, ha='left', va='center')
    ftext(title_x[i], 21, sites[i], fontsize=19, fontweight='bold', color=TITLE_COLORS[i], family=SERIF)
    ftext(gr_label_x[i], 130, 'Growth rates', fontsize=11, rotation=90, color=TXT, family=SERIF)

    # trends
    specs = [(tr_black[i], '#111111', '#a6a6a6', '#7a7a7a'),
             (tr_red[i], '#e01010', '#f3a3a3', '#f08a8a'),
             (tr_blue[i], '#1414e0', '#a0a0f2', '#5050e0')]
    for k, (spec, dark, light, base) in enumerate(specs):
        tax = box(top_trend[i][k])
        trend(tax, dark, light, base, **spec)
        frame(tax, (-18, 383), (-0.55, 0.55), [-0.5, 0, 0.5], '%.1f', xlabels=(k == 2))
    tx0, _, tx1, _ = top_trend[i][2]
    ftext(gr_label_x[i], 326, 'Trend', fontsize=11, rotation=90, color=TXT, family=SERIF)
    ftext((tx0 + tx1) / 2, 459, 'DOY', fontsize=11, color=TXT, family=SERIF)

    # cumulative cells / differentiation rate
    ax = box(bot_main[i])
    rax = ax.twinx()
    d, v, lo, hi = rates[i]
    rax.fill_between(d, lo, hi, color=ORANGE_F, lw=0, alpha=0.9)
    rax.plot(d, v, color=ORANGE, lw=1.0)
    d, v, lo, hi = cums[i]
    ax.fill_between(d, lo, hi, color=GREEN_F, lw=0, alpha=0.65)
    ax.plot(d, v, color=GREEN, lw=1.0)
    ax.set_zorder(rax.get_zorder() + 1)
    ax.patch.set_visible(False)
    frame(ax, (-16, 386), (-3.6, 84), [0, 20, 40, 60, 80], '%d')
    frame(rax, (-16, 386), (-0.09, 2.1), [0, 0.5, 1.0, 1.5, 2.0], '%.1f')
    bx0, by0, bx1, by1 = bot_main[i]
    yc = (by0 + by1) / 2
    ftext(cum_label_x[i], yc, 'Cumulative cell number', fontsize=11, rotation=90, color=TXT, family=SERIF)
    ftext(rate_label_x[i], yc, 'Daily differentiation rate', fontsize=11, rotation=270, color=TXT,
          family=SERIF)

    tax = box(bot_trend[i])
    d, v, sig = tr_cell[i]
    trend(tax, '#f0a010', '#fad6a0', '#f6a8a8', area=(d, v, sig))
    frame(tax, (-10, 384), (-0.55, 0.55), [-0.5, 0, 0.5], '%.1f')
    tx0, ty0, tx1, ty1 = bot_trend[i]
    ftext(cum_label_x[i], (ty0 + ty1) / 2 - 2, 'Trend', fontsize=11, rotation=90, color=TXT, family=SERIF)
    ftext((tx0 + tx1) / 2, ty1 + 34, 'DOY', fontsize=11, color=TXT, family=SERIF)

ftext(25, 25, '(a)', fontsize=17, fontweight='bold', color='black')
ftext(25, 480, '(a)', fontsize=17, fontweight='bold', color='black')

fig.savefig('out.png', dpi=100)
